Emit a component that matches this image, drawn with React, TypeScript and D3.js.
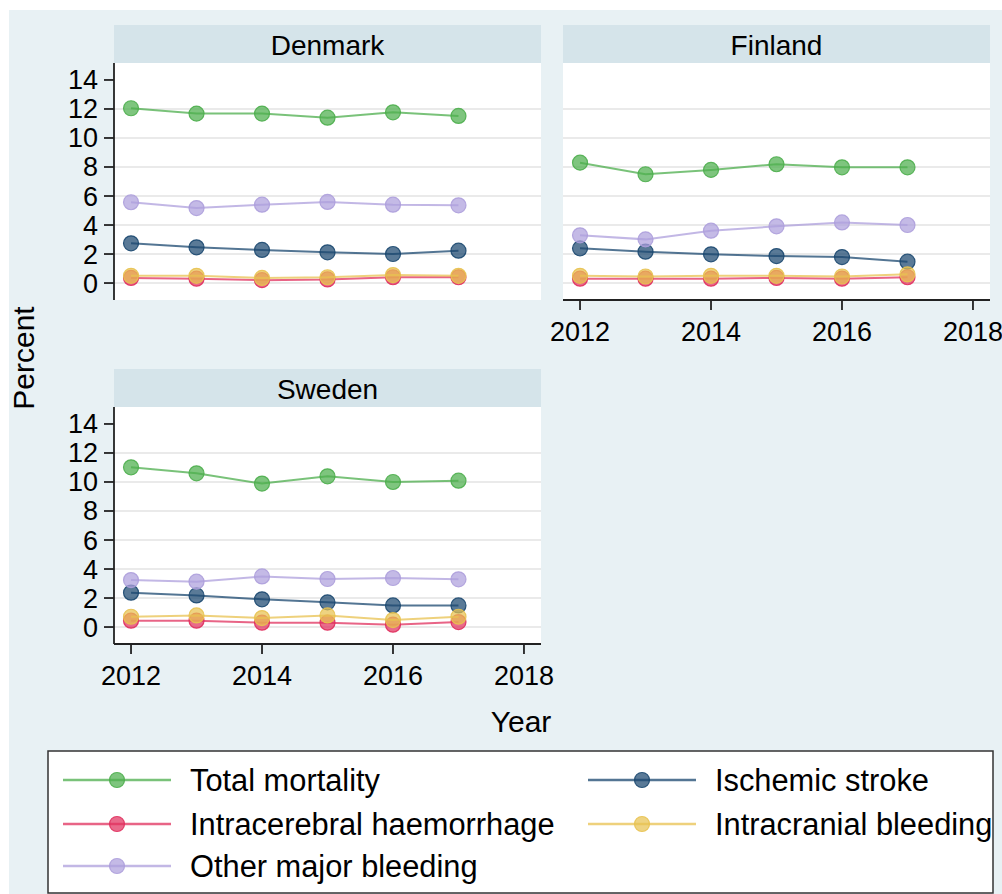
import React from "react";
import * as d3 from "d3";

const years = [2012, 2013, 2014, 2015, 2016, 2017];
const xTicks = [2012, 2014, 2016, 2018];
const yTicks = [0, 2, 4, 6, 8, 10, 12, 14];
const gridTicks = [0, 2, 4, 6, 8, 10, 12];

const seriesNames = [
  "Total mortality",
  "Ischemic stroke",
  "Intracerebral haemorrhage",
  "Intracranial bleeding",
  "Other major bleeding",
];
const seriesColors = ["#4cae4c", "#1a476f", "#e0305e", "#e8c250", "#ad9fdc"];

const denmarkTotal = [12.05, 11.68, 11.68, 11.4, 11.77, 11.52];
const denmarkIschemic = [2.74, 2.46, 2.28, 2.12, 2.0, 2.23];
const denmarkICH = [0.35, 0.3, 0.2, 0.25, 0.4, 0.4];
const denmarkIntracranial = [0.5, 0.5, 0.35, 0.4, 0.55, 0.5];
const denmarkOther = [5.57, 5.17, 5.4, 5.59, 5.4, 5.36];

const finlandTotal = [8.3, 7.5, 7.8, 8.19, 7.98, 7.98];
const finlandIschemic = [2.39, 2.16, 1.98, 1.86, 1.79, 1.47];
const finlandICH = [0.3, 0.3, 0.3, 0.35, 0.3, 0.4];
const finlandIntracranial = [0.5, 0.45, 0.5, 0.5, 0.45, 0.6];
const finlandOther = [3.29, 3.01, 3.61, 3.91, 4.18, 4.0];

const swedenTotal = [11.01, 10.6, 9.89, 10.39, 10.0, 10.09];
const swedenIschemic = [2.37, 2.18, 1.91, 1.7, 1.49, 1.49];
const swedenICH = [0.44, 0.44, 0.3, 0.3, 0.16, 0.34];
const swedenIntracranial = [0.71, 0.8, 0.62, 0.8, 0.48, 0.71];
const swedenOther = [3.24, 3.13, 3.49, 3.31, 3.38, 3.29];

const panels = [
  { name: "Denmark", data: [denmarkTotal, denmarkIschemic, denmarkICH, denmarkIntracranial, denmarkOther], left: 114, top: 25, showY: true, showX: false },
  { name: "Finland", data: [finlandTotal, finlandIschemic, finlandICH, finlandIntracranial, finlandOther], left: 563, top: 25, showY: false, showX: true },
  { name: "Sweden", data: [swedenTotal, swedenIschemic, swedenICH, swedenIntracranial, swedenOther], left: 114, top: 369, showY: true, showX: true },
];

const FONT = "'Liberation Sans', Arial, sans-serif";
const PW = 427;
const HEADER = 38;
const PH = 237;

function Panel({ p }: { p: any }) {
  const x = d3.scaleLinear().domain([2011.74, 2018.26]).range([p.left, p.left + PW]);
  const plotTop = p.top + HEADER;
  const plotBottom = plotTop + PH;
  const y = d3.scaleLinear().domain([-1.17, 15.17]).range([plotBottom, plotTop]);
  const line = d3
    .line<number>()
    .x((_, i) => x(years[i]))
    .y((d) => y(d));
  return (
    <g>
      <rect x={p.left} y={p.top} width={PW} height={HEADER} fill="#d5e4ea" />
      <text x={p.left + PW / 2} y={p.top + 30} textAnchor="middle" fontSize={28} fontFamily={FONT} fill="#000">
        {p.name}
      </text>
      <rect x={p.left} y={plotTop} width={PW} height={PH} fill="#ffffff" />
      {gridTicks.map((t) => (
        <line key={t} x1={p.left} x2={p.left + PW} y1={y(t)} y2={y(t)} stroke="#e3e3e3" strokeWidth={1.6} />
      ))}
      {p.data.map((vals: number[], si: number) => (
        <g key={si}>
          <path d={line(vals) || ""} fill="none" stroke={seriesColors[si]} strokeOpacity={0.75} strokeWidth={2} />
          {vals.map((v, i) => (
            <circle
              key={i}
              cx={x(years[i])}
              cy={y(v)}
              r={7.5}
              fill={seriesColors[si]}
              fillOpacity={0.72}
              stroke={seriesColors[si]}
              strokeOpacity={0.9}
              strokeWidth={1.2}
            />
          ))}
        </g>
      ))}
      {p.showY && (
        <g>
          <line x1={p.left} x2={p.left} y1={plotTop} y2={plotBottom} stroke="#222" strokeWidth={1.8} />
          {yTicks.map((t) => (
            <g key={t}>
              <line x1={p.left - 10} x2={p.left} y1={y(t)} y2={y(t)} stroke="#222" strokeWidth={1.8} />
              <text x={p.left - 16} y={y(t) + 9.5} textAnchor="end" fontSize={27} fontFamily={FONT} fill="#000">
                {t}
              </text>
            </g>
          ))}
        </g>
      )}
      {p.showX && (
        <g>
          <line x1={p.left} x2={p.left + PW} y1={plotBottom} y2={plotBottom} stroke="#222" strokeWidth={1.8} />
          {xTicks.map((t) => (
            <g key={t}>
              <line x1={x(t)} x2={x(t)} y1={plotBottom} y2={plotBottom + 10} stroke="#222" strokeWidth={1.8} />
              <text x={x(t)} y={plotBottom + 41} textAnchor="middle" fontSize={27} fontFamily={FONT} fill="#000">
                {t}
              </text>
            </g>
          ))}
        </g>
      )}
    </g>
  );
}

const legendCols = [63, 588];
const legendRows = [780, 824, 866];

export default function App() {
  return (
    <svg
      width={1002}
      height={894}
      style={{ position: "absolute", left: 0, top: 0, display: "block" }}
    >
      <rect x={0} y={0} width={1002} height={894} fill="#ffffff" />
      <rect x={9} y={10} width={993} height={884} fill="#e8f1f4" />
      {panels.map((p) => (
        <Panel key={p.name} p={p} />
      ))}
      <text
        transform="translate(34,358) rotate(-90)"
        textAnchor="middle"
        fontSize={30}
        fontFamily={FONT}
        fill="#000"
      >
        Percent
      </text>
      <text x={521} y={732} textAnchor="middle" fontSize={30} fontFamily={FONT} fill="#000">
        Year
      </text>
      <rect x={48} y={751} width={945} height={142} fill="#ffffff" stroke="#333" strokeWidth={1.5} />
      {seriesNames.map((name, i) => {
        const col = i % 2;
        const row = Math.floor(i / 2);
        const lx = legendCols[col];
        const ly = legendRows[row];
        return (
          <g key={name}>
            <line x1={lx} x2={lx + 108} y1={ly} y2={ly} stroke={seriesColors[i]} strokeOpacity={0.75} strokeWidth={2.5} />
            <circle cx={lx + 54} cy={ly} r={7.5} fill={seriesColors[i]} fillOpacity={0.72} stroke={seriesColors[i]} strokeOpacity={0.9} strokeWidth={1.2} />
            <text x={lx + 127} y={ly + 10.5} fontSize={30.8} fontFamily={FONT} fill="#000">
              {name}
            </text>
          </g>
        );
      })}
    </svg>
  );
}
